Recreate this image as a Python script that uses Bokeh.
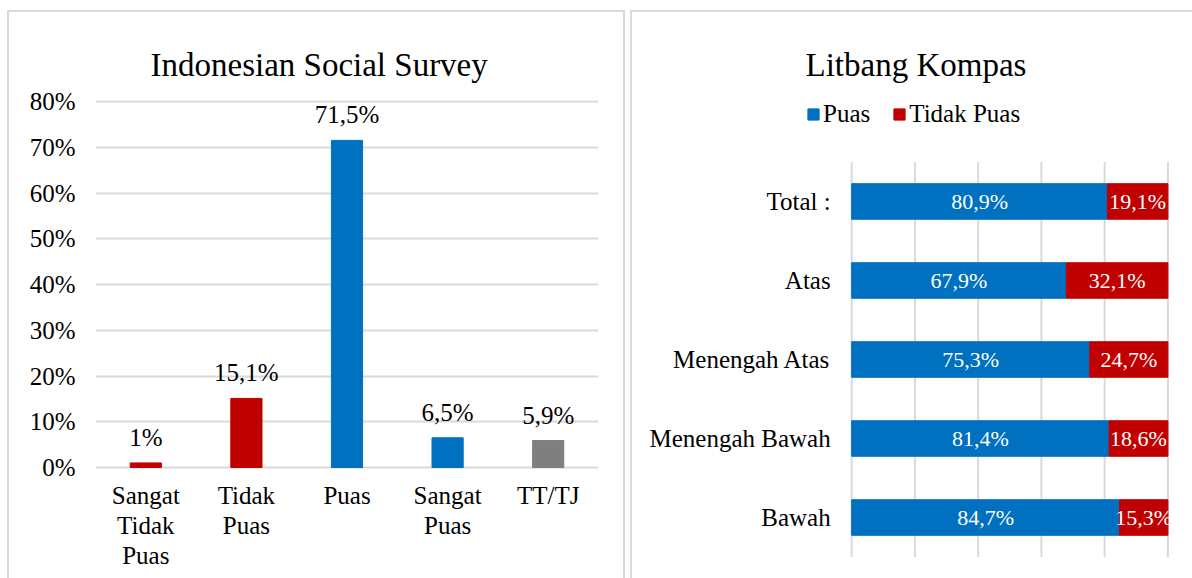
from bokeh.plotting import figure
from bokeh.layouts import row
from bokeh.models import (ColumnDataSource, FactorRange, Range1d, NumeralTickFormatter,
                          Legend, LegendItem, Title)
from bokeh.core.properties import value
from bokeh.embed import file_html
from bokeh.resources import INLINE

# ---- data ----
iss_categories = ["Sangat Tidak Puas", "Tidak Puas", "Puas", "Sangat Puas", "TT/TJ"]
iss_tick_labels = ["Sangat\nTidak\nPuas", "Tidak\nPuas", "Puas", "Sangat\nPuas", "TT/TJ"]
iss_values = [1.0, 15.1, 71.5, 6.5, 5.9]
iss_colors = ["#C00000", "#C00000", "#0070C0", "#0070C0", "#7F7F7F"]
iss_yticks = [0, 0.1, 0.2, 0.3, 0.4, 0.5, 0.6, 0.7, 0.8]

kompas_groups = ["Total :", "Atas", "Menengah Atas", "Menengah Bawah", "Bawah"]
kompas_puas = [80.9, 67.9, 75.3, 81.4, 84.7]
kompas_tidak = [19.1, 32.1, 24.7, 18.6, 15.3]
kompas_xticks = [0, 20, 40, 60, 80, 100]

FONT_NAME = "Liberation Serif"
FONT = value(FONT_NAME)
BLUE = "#0070C0"
RED = "#C00000"
GRID = "#D9D9D9"


def fmt(v):
    s = f"{v:.1f}"
    if s.endswith(".0"):
        s = s[:-2]
    return s.replace(".", ",") + "%"


def line_layer(x, y, w, h):
    return f"linear-gradient({GRID},{GRID}) {x}px {y}px / {w}px {h}px no-repeat"


H = 578
# ---- left chart ----
W1 = 625
p1_bg = ", ".join([line_layer(7, 10, 2, H), line_layer(7, 10, 618, 2), line_layer(623, 10, 2, H)])
p1 = figure(width=W1, height=H, output_backend="svg", toolbar_location=None,
            x_range=FactorRange(*iss_categories, range_padding=0),
            y_range=Range1d(-0.2426, 0.8022), x_axis_location=None,
            min_border_left=95, min_border_right=27, min_border_top=100, min_border_bottom=0,
            styles={"background": p1_bg})
p1.outline_line_color = None
p1.border_fill_color = None
p1.background_fill_color = None
p1.title = Title(text="Indonesian Social Survey", align="left", offset=55, standoff=36,
                 text_font=FONT_NAME, text_font_size="33px", text_font_style="normal",
                 text_color="#000000")

src1 = ColumnDataSource(dict(cat=iss_categories, val=[v / 100 for v in iss_values],
                             color=iss_colors, lbl=[fmt(v) for v in iss_values],
                             tick=iss_tick_labels, base=[0.0] * len(iss_values)))
p1.vbar(x="cat", top="val", width=0.31, color="color", source=src1)
p1.text(x="cat", y="val", text="lbl", source=src1, text_align="center",
        text_baseline="bottom", y_offset=-12, text_font=FONT, text_font_size="25px",
        text_color="#000000")
p1.text(x="cat", y="base", text="tick", source=src1, text_align="center",
        text_baseline="top", y_offset=14, text_font=FONT, text_font_size="25px",
        text_color="#000000", text_line_height=1.12)

p1.yaxis.ticker = iss_yticks
p1.yaxis.formatter = NumeralTickFormatter(format="0%")
ax = p1.yaxis[0]
ax.axis_line_color = None
ax.major_tick_line_color = None
ax.minor_tick_line_color = None
ax.major_tick_out = 0
ax.major_tick_in = 0
ax.major_label_text_font = FONT_NAME
ax.major_label_text_font_size = "25px"
ax.major_label_text_color = "#000000"
ax.major_label_standoff = 20
p1.xgrid.grid_line_color = None
p1.ygrid.grid_line_color = GRID
p1.ygrid.grid_line_width = 2

# ---- right chart ----
W2 = 567
n = len(kompas_groups)
ypos = [n - 1 - i for i in range(n)]
p2_bg = ", ".join([line_layer(5, 10, 2, H), line_layer(5, 10, W2, 2)])
p2 = figure(width=W2, height=H, output_backend="svg", toolbar_location=None,
            y_range=Range1d(-0.772, n - 1 + 1.278), x_range=Range1d(-66.77, 100.5),
            x_axis_location=None, y_axis_location=None,
            min_border_left=15, min_border_right=23, min_border_top=100, min_border_bottom=0,
            styles={"background": p2_bg})
p2.outline_line_color = None
p2.border_fill_color = None
p2.background_fill_color = None
for g in p2.grid:
    g.visible = False
p2.xgrid.grid_line_color = None
p2.ygrid.grid_line_color = None

# vertical gridlines spanning the category bands
p2.segment(x0=kompas_xticks, x1=kompas_xticks, y0=[-0.5] * len(kompas_xticks),
           y1=[n - 0.5] * len(kompas_xticks), line_color=GRID, line_width=2)

src2 = ColumnDataSource(dict(grp=kompas_groups, y=ypos, puas=kompas_puas, tidak=kompas_tidak,
                             zero=[0.0] * n,
                             puas_mid=[v / 2 for v in kompas_puas],
                             tidak_mid=[a + b / 2 for a, b in zip(kompas_puas, kompas_tidak)],
                             puas_lbl=[fmt(v) for v in kompas_puas],
                             tidak_lbl=[fmt(v) for v in kompas_tidak]))
rs = p2.hbar_stack(["puas", "tidak"], y="y", height=0.45, color=[BLUE, RED], source=src2)
p2.text(x="puas_mid", y="y", text="puas_lbl", source=src2, text_align="center",
        text_baseline="middle", text_font=FONT, text_font_size="22px", text_color="white")
p2.text(x="tidak_mid", y="y", text="tidak_lbl", source=src2, text_align="center",
        text_baseline="middle", text_font=FONT, text_font_size="22px", text_color="white")
# category labels
p2.text(x="zero", y="y", text="grp", source=src2, text_align="right",
        text_baseline="middle", x_offset=-21, text_font=FONT, text_font_size="25px",
        text_color="#000000")

legend = Legend(items=[LegendItem(label="Puas", renderers=[rs[0]]),
                       LegendItem(label="Tidak Puas", renderers=[rs[1]])],
                orientation="horizontal", location=(166, 450),
                glyph_width=14, glyph_height=14, label_standoff=3, spacing=22,
                label_text_font=FONT_NAME, label_text_font_size="25px", label_text_color="#000000",
                border_line_color=None, background_fill_alpha=0, padding=0, margin=0)
p2.add_layout(legend)
p2.title = Title(text="Litbang Kompas", align="left", offset=165, standoff=36,
                 text_font=FONT_NAME, text_font_size="33px", text_font_style="normal",
                 text_color="#000000")

layout = row(p1, p2)
open("out.html", "w").write(file_html(layout, INLINE))
